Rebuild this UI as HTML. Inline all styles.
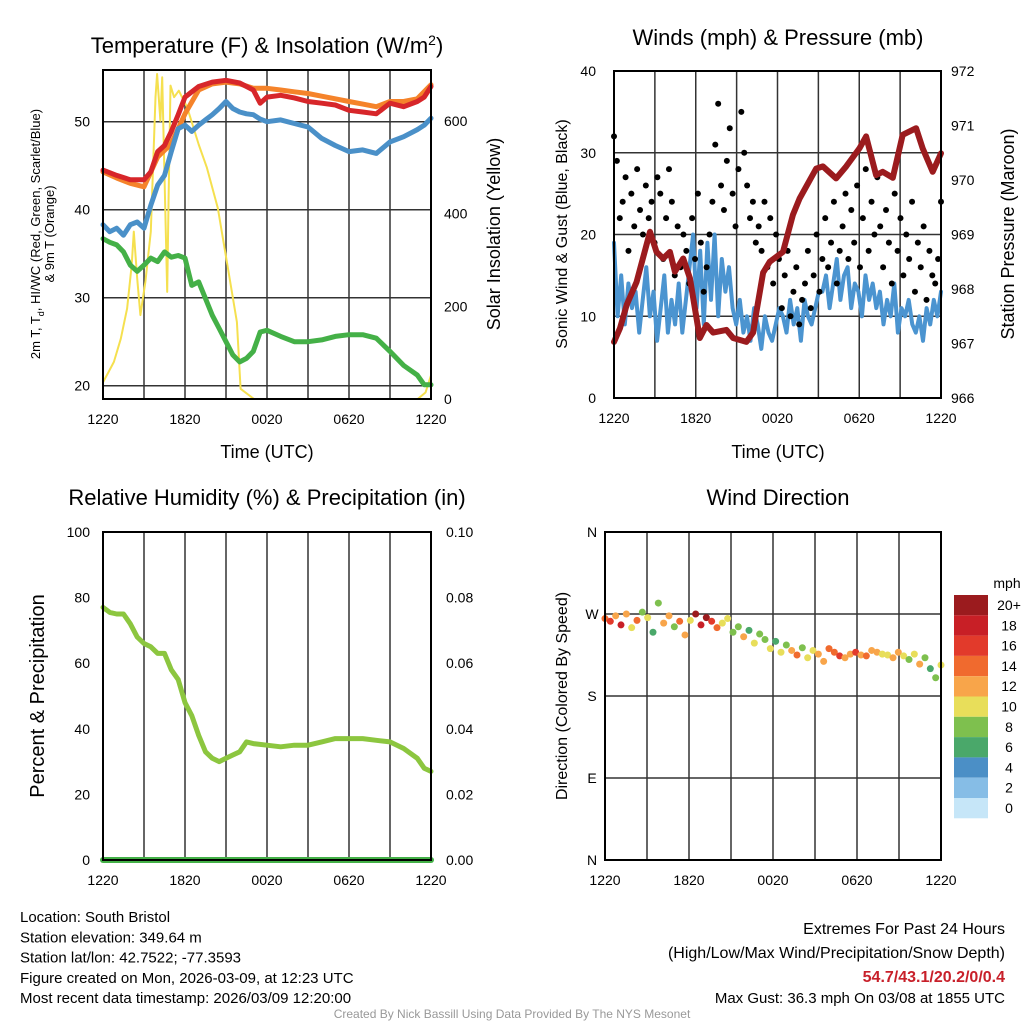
<!DOCTYPE html>
<html><head><meta charset="utf-8">
<style>
body{margin:0;background:#fff;}
svg{display:block;font-family:"Liberation Sans",sans-serif;}
</style></head>
<body>
<svg id="s" width="1024" height="1024" viewBox="0 0 1024 1024" xmlns="http://www.w3.org/2000/svg">
<rect width="1024" height="1024" fill="#fff"/>
</svg>
<script>
// ---------- data ----------
const timeLabels = ["1220","1820","0020","0620","1220"];
const tempHours = [0,1,2,3,3.5,4,4.5,5,5.5,6,7,8,9,10,11,11.5,12,13,14,15,16,17,18,19,20,21,22,23,23.5,24];
const tempRed = [44.5,43.9,43.4,43.4,44.3,46.6,47.3,48.9,50.8,52.8,54.0,54.5,54.7,54.4,53.6,52.1,52.8,53.0,52.7,52.3,52.1,51.9,51.3,51.1,50.9,52.1,51.7,52.3,52.8,54.0];
const orangeHours = [0,1,2,3,4,5,6,7,8,9,10,11,12,13,14,15,16,17,18,19,20,21,22,23,24];
const tempOrange = [44.3,43.6,43.0,42.6,46.0,47.5,50.9,53.6,54.3,54.5,54.3,53.8,53.8,53.6,53.4,53.2,52.9,52.6,52.3,52.0,51.7,52.3,52.3,52.6,54.2];
const halfHours = [0,0.5,1,1.5,2,2.5,3,3.5,4,4.5,5,5.5,6,6.5,7,7.5,8,8.5,9,9.5,10,10.5,11,11.5,12,13,14,15,16,17,18,19,20,21,22,23,23.5,24];
const tempBlue = [38.3,37.5,37.9,37.1,38.3,38.6,37.9,40.5,42.8,43.9,46.6,49.2,49.6,48.9,49.6,50.2,50.8,51.5,52.3,51.5,51.1,50.9,50.8,50.3,50.0,50.2,49.8,49.4,48.1,47.3,46.6,46.8,46.4,47.7,48.3,49.1,49.6,50.4];
const tempGreen = [36.7,36.3,36.0,35.2,33.7,33.0,33.7,34.5,34.1,35.2,34.6,34.8,34.5,31.4,31.8,29.9,28.0,26.5,25.0,23.5,22.7,23.1,23.9,26.1,26.3,25.6,25.0,25.0,25.2,25.6,25.8,25.8,25.4,23.9,22.3,21.2,20.1,20.1];
const solarHours = [0,0.4,0.8,1.3,1.76,2.1,2.25,2.5,2.74,3.1,3.5,3.84,3.96,4.2,4.33,4.7,4.8,4.94,5.2,5.55,6.16,7.0,7.6,8.4,9.1,9.8,10.07,11.05,23.03,23.6,24];
const solar = [36,58,80,130,195,289,361,260,181,253,361,651,701,600,694,231,434,676,651,665,629,549,499,412,289,166,22,0,0,14,51];
const presHours = [0,0.44,0.93,1.66,2.64,3.12,3.61,4.1,4.47,5.08,5.57,6.3,6.79,7.28,8.25,8.74,9.72,10.21,10.45,10.94,11.43,12.4,13.13,13.62,14.84,15.33,16.3,17.04,18.01,18.5,19.24,19.72,20.46,21.19,22.17,22.66,23.39,24];
const pressure = [967.03,967.28,967.71,968.13,969.05,968.68,968.56,968.68,968.32,968.56,968.2,967.1,967.34,967.2,967.25,967.1,967.03,967.2,967.58,968.3,968.5,968.68,969.36,969.66,970.21,970.25,970.03,970.25,970.58,970.8,970.09,970.15,970.04,970.83,970.95,970.58,970.15,970.49];
const wind = [19,10,15,9,14,11,13,8,12,16,10,13,7,11,15,8,12,9,14,8,12,16,20,11,18,9,19,12,20,10,17,13,16,11,9,12,8,10,7,11,9,6,10,8,7,9,11,10,8,12,9,11,7,12,10,9,11,13,13,15,11,14,17,12,15,16,11,14,13,10,15,12,14,11,13,9,12,10,14,8,11,10,12,9,8,10,7,11,9,12,10,13];
const gusts = [32,29,22,24,27,18,25,21,28,23,20,26,22,24,19,27,25,17,22,28,24,15,21,16,20,18,14,22,17,25,19,13,16,20,24,31,36,26,23,29,33,25,21,28,35,30,26,22,24,19,21,18,24,16,22,14,20,17,11,15,18,10,13,16,9,12,14,18,11,15,20,13,17,22,16,19,24,14,18,21,25,17,23,19,26,16,22,28,18,24,20,27,21,16,23,19,14,25,18,22,15,20,17,24,13,19,16,21,12,18,15,14,17,24];
const rhHours = [0,0.5,1,1.5,2,2.5,3,3.5,4,4.5,5,5.5,6,6.5,7,7.5,8,8.5,9,9.5,10,10.5,11,12,13,14,15,16,17,18,19,20,21,22,23,23.5,24];
const rh = [77,75.5,75,75,72,68,66,65,63,63,58,55,48,44,38,33,31,30,31,32,33,36,35.5,35,34.5,35,35,36,37,37,37,36.5,36,34,31,28,27];
const precip = [0,0,0,0,0];
const dirs = [265,262,268,258,270,255,263,272,266,250,282,260,268,256,262,247,263,270,258,266,262,255,260,265,250,256,245,252,238,248,242,232,240,228,236,230,225,233,222,230,226,218,232,228,224,222,226,228,225,224,230,228,226,225,222,228,224,220,226,215,222,210,200,214];
const dirSpeeds = [14,16,12,18,13,10,15,9,11,7,9,13,12,8,15,12,10,20,19,21,17,14,11,10,9,8,12,6,10,8,9,11,7,10,8,12,14,9,11,10,12,13,14,15,16,13,12,17,12,14,13,12,11,10,13,12,11,9,10,12,8,7,9,11];
const cbarLabels = ["20+","18","16","14","12","10","8","6","4","2","0"];
const cbarColors = ["#9b1b1e","#c81f26","#e23a2b","#f06a2e","#f8a54a","#e8de5a","#7ec04e","#4aa86a","#4b8fc6","#86bde6","#c6e6f8"];

// ---------- helpers ----------
const NS="http://www.w3.org/2000/svg";
const svg=document.getElementById('s');
function mk(tag,attrs,parent){const e=document.createElementNS(NS,tag);for(const k in attrs)e.setAttribute(k,attrs[k]);(parent||svg).appendChild(e);return e;}
function txt(x,y,s,size,anchor,parent,extra){const t=mk('text',Object.assign({x:x,y:y,'font-size':size,'text-anchor':anchor||'middle',fill:'#000'},extra||{}),parent);t.textContent=s;return t;}
function panel(x0,x1,y0,y1){return {x:h=>x0+(x1-x0)*h/24,x0,x1,y0,y1};}
function grid(P,name,hLines){
  const g=mk('g',{});
  
  
  for(let i=0;i<=8;i++){const x=P.x(i*3);mk('line',{x1:x,x2:x,y1:P.y0,y2:P.y1,stroke:'#333','stroke-width':1.5},g);}
  hLines.forEach(y=>mk('line',{x1:P.x0,x2:P.x1,y1:y,y2:y,stroke:'#333','stroke-width':1.5},g));
  for(let i=0;i<5;i++){txt(P.x(i*6),P.y1+25,timeLabels[i],14,'middle',g);}
  return g;
}
function frame(P,name){const r=mk('rect',{x:P.x0,y:P.y0,width:P.x1-P.x0,height:P.y1-P.y0,fill:'none',stroke:'#000','stroke-width':2});
  
  }
function line(P,hours,vals,fy,color,w,name){
  const d=hours.map((h,i)=>(i?'L':'M')+P.x(h).toFixed(1)+','+fy(vals[i]).toFixed(1)).join('');
  const p=mk('path',{d:d,fill:'none',stroke:color,'stroke-width':w,'stroke-linejoin':'round','stroke-linecap':'round'});
  
  
  return p;
}
function evenH(n){return Array.from({length:n},(_,i)=>i*24/(n-1));}

// ---------- panel 1 ----------
const P1=panel(103,431,70,399);
const yT=v=>121.7+(50-v)*8.8;
const yS=v=>399-v*0.4636;
grid(P1,'temperature',[yT(20),yT(30),yT(40),yT(50)]);
[20,30,40,50].forEach(v=>txt(90,yT(v)+5,String(v),14,'end'));
[0,200,400,600].forEach(v=>txt(444,yS(v)+5,String(v),14,'start'));
line(P1,solarHours,solar,yS,'#f5e04f',2,'solar-insolation-line');
line(P1,orangeHours,tempOrange,yT,'#f5832a',5,'temp-9m-line');
line(P1,tempHours,tempRed,yT,'#d7262a',5,'temp-2m-line');
line(P1,halfHours,tempBlue,yT,'#4a90c8',5,'windchill-line');
line(P1,halfHours,tempGreen,yT,'#44b047',5,'dewpoint-line');
frame(P1,'temperature');
txt(267,53,'',22,'middle',null,{}).innerHTML='Temperature (F) &amp; Insolation (W/m<tspan dy="-8" font-size="14">2</tspan><tspan dy="8">)</tspan>';
txt(267,458,'Time (UTC)',18);
txt(0,0,'',13,'middle',null,{transform:'translate(40,234) rotate(-90)'}).innerHTML='2m T, T<tspan dy="4" font-size="9">d</tspan><tspan dy="-4">, HI/WC (Red, Green, Scarlet/Blue)</tspan>';
txt(0,0,'& 9m T (Orange)',13,'middle',null,{transform:'translate(54,234) rotate(-90)'});
txt(0,0,'Solar Insolation (Yellow)',18,'middle',null,{transform:'translate(500,234) rotate(-90)'});

// ---------- panel 2 ----------
const P2=panel(614,941,71,398);
const yW=v=>398-v*8.175;
const yP=v=>398-(v-966)*54.5;
grid(P2,'winds',[yW(10),yW(20),yW(30)]);
[0,10,20,30,40].forEach(v=>txt(596,yW(v)+5,String(v),14,'end'));
[966,967,968,969,970,971,972].forEach(v=>txt(951,yP(v)+5,String(v),14,'start'));
line(P2,evenH(wind.length),wind,yW,'#4b94d0',4,'sonic-wind-line');
const gH=evenH(gusts.length);
const gg=mk('g',{});


gusts.forEach((v,i)=>{const c=mk('circle',{cx:P2.x(gH[i]),cy:yW(v),r:3,fill:'#000'},gg);
  
  });
line(P2,presHours,pressure,yP,'#9b1b1e',6,'pressure-line');
frame(P2,'winds');
txt(778,45,'Winds (mph) & Pressure (mb)',22);
txt(778,458,'Time (UTC)',18);
txt(0,0,'Sonic Wind & Gust (Blue, Black)',16,'middle',null,{transform:'translate(567,234) rotate(-90)'});
txt(0,0,'Station Pressure (Maroon)',18,'middle',null,{transform:'translate(1014,234) rotate(-90)'});

// ---------- panel 3 ----------
const P3=panel(103,431,532,860);
const yR=v=>860-v*3.28;
grid(P3,'humidity',[]);
[0,20,40,60,80,100].forEach(v=>txt(90,yR(v)+5,String(v),14,'end'));
["0.00","0.02","0.04","0.06","0.08","0.10"].forEach((s,i)=>txt(446,yR(i*20)+5,s,14,'start'));
line(P3,evenH(precip.length),precip,v=>860-v*3280,'#44b047',6,'precipitation-line');
line(P3,rhHours,rh,yR,'#8cc63f',5,'relative-humidity-line');
frame(P3,'humidity');
txt(267,505,'Relative Humidity (%) & Precipitation (in)',22);
txt(0,0,'Percent & Precipitation',20,'middle',null,{transform:'translate(44,696) rotate(-90)'});

// ---------- panel 4 ----------
const P4=panel(605,941,532,860);
const yD=v=>860-v*0.9111;
grid(P4,'wind-direction',[yD(90),yD(180),yD(270)]);
["N","E","S","W","N"].forEach((s,i)=>txt(592,yD(i*90)+5,s,14,'middle'));
const dH=evenH(dirs.length);
const dg=mk('g',{});


dirs.forEach((v,i)=>{const idx=Math.max(0,10-Math.min(10,Math.floor(dirSpeeds[i]/2)));
  const c=mk('circle',{cx:P4.x(dH[i]),cy:yD(v),r:3.5,fill:cbarColors[idx]},dg);
  
  });
frame(P4,'wind-direction');
txt(778,505,'Wind Direction',22);
txt(0,0,'Direction (Colored By Speed)',16,'middle',null,{transform:'translate(567,696) rotate(-90)'});
const cb=mk('g',{});


cbarColors.forEach((c,i)=>{mk('rect',{x:954,y:595+i*20.3,width:34,height:20.3,fill:c},cb);
  txt(1009,595+i*20.3+15,cbarLabels[i],14,'middle',cb);});
txt(1007,588,'mph',14,'middle',cb);

// ---------- footer ----------
const left=["Location: South Bristol","Station elevation: 349.64 m","Station lat/lon: 42.7522; -77.3593","Figure created on Mon, 2026-03-09, at 12:23 UTC","Most recent data timestamp: 2026/03/09 12:20:00"];
left.forEach((s,i)=>txt(20,922+i*20.3,s,15,'start'));
txt(1005,934,'Extremes For Past 24 Hours',16,'end');
txt(1005,958,'(High/Low/Max Wind/Precipitation/Snow Depth)',16,'end');
txt(1005,982,'54.7/43.1/20.2/0/0.4',16,'end',null,{fill:'#c8202a','font-weight':'bold'});
txt(1005,1003,'Max Gust: 36.3 mph On 03/08 at 1855 UTC',15,'end');
txt(512,1018,'Created By Nick Bassill Using Data Provided By The NYS Mesonet',12,'middle',null,{fill:'#999'});
</script>
</body></html>
